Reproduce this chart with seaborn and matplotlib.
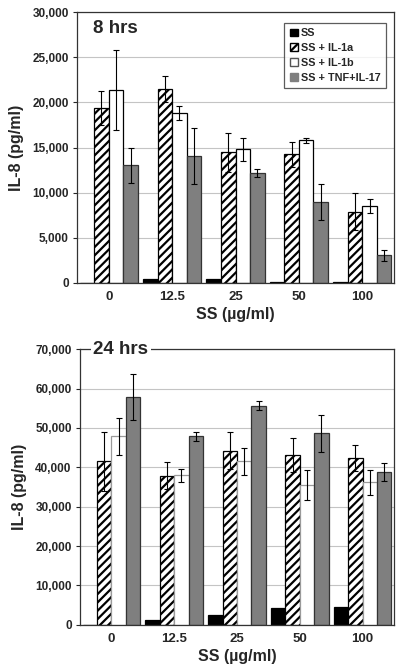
import matplotlib
matplotlib.use("Agg")
import matplotlib.pyplot as plt
import seaborn as sns
import pandas as pd
import numpy as np
from matplotlib.patches import Patch

# ---- data ----
doses = ["0", "12.5", "25", "50", "100"]
series = ["SS", "SS + IL-1a", "SS + IL-1b", "SS + TNF+IL-17"]

h8_ss = [0, 420, 420, 100, 100]
h8_il1a = [19400, 21500, 14450, 14250, 7900]
h8_il1b = [21400, 18850, 14800, 15800, 8550]
h8_tnf = [13050, 14100, 12150, 9000, 3050]
h8_ss_err = [0, 0, 0, 0, 0]
h8_il1a_err = [1900, 1450, 2150, 1400, 2050]
h8_il1b_err = [4450, 800, 1250, 300, 800]
h8_tnf_err = [1950, 3100, 450, 2000, 600]

h24_ss = [0, 1250, 2600, 4250, 4650]
h24_il1a = [41500, 37900, 44200, 43100, 42400]
h24_il1b = [47900, 38000, 41500, 35500, 36200]
h24_tnf = [57900, 47900, 55700, 48600, 38900]
h24_ss_err = [0, 0, 0, 0, 0]
h24_il1a_err = [7400, 3500, 4700, 4300, 3300]
h24_il1b_err = [4700, 1700, 3500, 3700, 3200]
h24_tnf_err = [5800, 1200, 1100, 4600, 2300]

sns.set_style("white")
plt.rcParams['font.family'] = ['Liberation Sans', 'DejaVu Sans']
plt.rcParams['hatch.linewidth'] = 1.6
plt.rcParams['hatch.color'] = 'black'

fig = plt.figure(figsize=(4.0, 6.69), dpi=100)
ax1 = fig.add_axes([0.1925, 0.577, 0.7925, 0.405])
ax2 = fig.add_axes([0.200, 0.066, 0.785, 0.412])


def make_df(vals, errs):
    rows = []
    for s, v, e in zip(series, vals, errs):
        for d, vi, ei in zip(doses, v, e):
            rows.append(dict(dose=d, series=s, value=vi, err=ei))
    return pd.DataFrame(rows)


def draw(ax, vals, errs, ymax, step, white_edge):
    df = make_df(vals, errs)
    sns.barplot(data=df, x="dose", y="value", hue="series", order=doses,
                hue_order=series, ax=ax, width=0.92, errorbar=None,
                palette=["black", "white", "white", "#7f7f7f"], legend=False,
                saturation=1)
    styles = [dict(fc="black", ec="black", hatch=None),
              dict(fc="white", ec="black", hatch="////"),
              dict(fc="white", ec=white_edge, hatch=None),
              dict(fc="#7f7f7f", ec="#333333", hatch=None)]
    for cont, st, e in zip(ax.containers, styles, errs):
        for p, ei in zip(cont.patches, e):
            p.set_facecolor(st["fc"])
            p.set_edgecolor(st["ec"])
            p.set_linewidth(0.9)
            if st["hatch"]:
                p.set_hatch(st["hatch"])
            if ei > 0:
                x = p.get_x() + p.get_width() / 2
                ax.errorbar(x, p.get_height(), yerr=ei, color="black",
                            lw=0.8, capsize=2.5, capthick=0.8, zorder=5)
    ax.set_xlim(-0.5, 4.5)
    ax.set_ylim(0, ymax)
    ticks = np.arange(0, ymax + 1, step)
    ax.set_yticks(ticks)
    ax.set_yticklabels([f"{int(t):,}" for t in ticks], fontsize=8.5,
                       fontweight="bold")
    ax.set_xticks(range(len(doses)))
    ax.set_xticklabels(doses, fontsize=9.5, fontweight="bold")
    ax.tick_params(axis="x", length=0, pad=6)
    ax.tick_params(axis="y", length=3, left=True, width=0.8, pad=3)
    ax.yaxis.grid(True, color="#c4c4c4", lw=0.8)
    ax.set_axisbelow(True)
    for sp in ax.spines.values():
        sp.set_color("#333333")
        sp.set_linewidth(0.9)
    ax.set_xlabel("SS (\u00b5g/ml)", fontsize=11.5, fontweight="bold",
                  labelpad=3)
    ax.set_ylabel("IL-8 (pg/ml)", fontsize=11.5, fontweight="bold",
                  labelpad=6)


draw(ax1, [h8_ss, h8_il1a, h8_il1b, h8_tnf],
     [h8_ss_err, h8_il1a_err, h8_il1b_err, h8_tnf_err], 30000, 5000, "black")
draw(ax2, [h24_ss, h24_il1a, h24_il1b, h24_tnf],
     [h24_ss_err, h24_il1a_err, h24_il1b_err, h24_tnf_err], 70000, 10000,
     "#9a9a9a")

ax1.text(0.05, 0.94, "8 hrs", transform=ax1.transAxes, fontsize=13.5,
         fontweight="bold", va="center", ha="left")
ax2.text(0.13, 1.0, "24 hrs", transform=ax2.transAxes, fontsize=13.5,
         fontweight="bold", va="center", ha="center", zorder=10,
         bbox=dict(fc="white", ec="none", pad=2))

handles = [Patch(fc="black", ec="black"),
           Patch(fc="white", ec="black", hatch="////"),
           Patch(fc="white", ec="#555555"),
           Patch(fc="#7f7f7f", ec="#7f7f7f")]
leg = ax1.legend(handles, series, loc="upper right",
                 bbox_to_anchor=(0.975, 0.96),
                 prop=dict(weight="bold", size=7.8), frameon=True,
                 fancybox=False, edgecolor="#333333", handlelength=0.75,
                 handleheight=0.75, handletextpad=0.3, labelspacing=0.45,
                 borderpad=0.5, borderaxespad=0)
leg.get_frame().set_linewidth(0.9)

fig.savefig("out.png", dpi=100)
